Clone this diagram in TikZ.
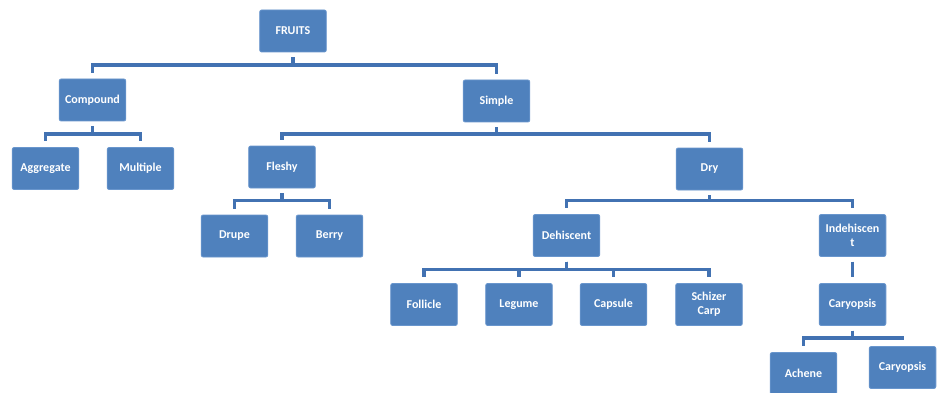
\documentclass[tikz,border=0pt]{standalone}
\usepackage{fontspec}
\setmainfont{Carlito}
\definecolor{boxblue}{RGB}{79,129,189}
\definecolor{boxedge}{RGB}{105,150,205}
\definecolor{linkblue}{RGB}{66,114,178}
\begin{document}
\begin{tikzpicture}[x=0.75pt,y=-0.75pt,
  box/.style={draw=boxedge, line width=0.6pt, fill=boxblue, rounded corners=1.5pt,
    minimum width=50pt, minimum height=31.5pt, inner sep=1pt, align=center,
    text=white, font=\fontsize{9}{10.5}\selectfont\bfseries},
  conn/.style={draw=linkblue, line width=2.8pt, line join=miter,
    shorten <=3.5pt, shorten >=4.5pt}]
\useasboundingbox[fill=white] (0,0) rectangle (944,392);
% nodes
\node[box] (fruits) at (293,31) {FRUITS};
\node[box] (compound) at (92.5,100) {Compound};
\node[box] (simple) at (496.5,101) {Simple};
\node[box] (aggregate) at (45.5,168.5) {Aggregate};
\node[box] (multiple) at (140.5,168.5) {Multiple};
\node[box] (fleshy) at (282,167) {Fleshy};
\node[box] (dry) at (709.5,169) {Dry};
\node[box] (drupe) at (234.5,236) {Drupe};
\node[box] (berry) at (329.5,236) {Berry};
\node[box] (dehiscent) at (566.5,235.5) {Dehiscent};
\node[box] (indehiscent) at (852.5,235.5) {Indehiscen\\t};
\node[box] (follicle) at (424,304.5) {Follicle};
\node[box] (legume) at (519,304.5) {Legume};
\node[box] (capsule) at (613.5,304.5) {Capsule};
\node[box] (schizer) at (709,304.5) {Schizer\\Carp};
\node[box] (caryopsis) at (852.5,304.5) {Caryopsis};
\node[box] (achene) at (803.5,373.5) {Achene};
\node[box] (caryopsisb) at (902.5,367.5) {Caryopsis};
% bar levels
\coordinate (l1) at (0,65);
\coordinate (l2) at (0,134);
\coordinate (l3) at (0,200.5);
\coordinate (l4) at (0,269.5);
\coordinate (l5) at (0,338);
% connectors
\foreach \p/\c/\l in {fruits/compound/l1, fruits/simple/l1,
  compound/aggregate/l2, compound/multiple/l2,
  simple/fleshy/l2, simple/dry/l2,
  fleshy/drupe/l3, fleshy/berry/l3,
  dry/dehiscent/l3, dry/indehiscent/l3,
  dehiscent/follicle/l4, dehiscent/legume/l4, dehiscent/capsule/l4, dehiscent/schizer/l4,
  caryopsis/achene/l5, caryopsis/caryopsisb/l5}
  \draw[conn] (\p.south) -- (\p.south |- \l) -| (\c.north);
\draw[conn] (indehiscent.south) -- (caryopsis.north);
\end{tikzpicture}
\end{document}
